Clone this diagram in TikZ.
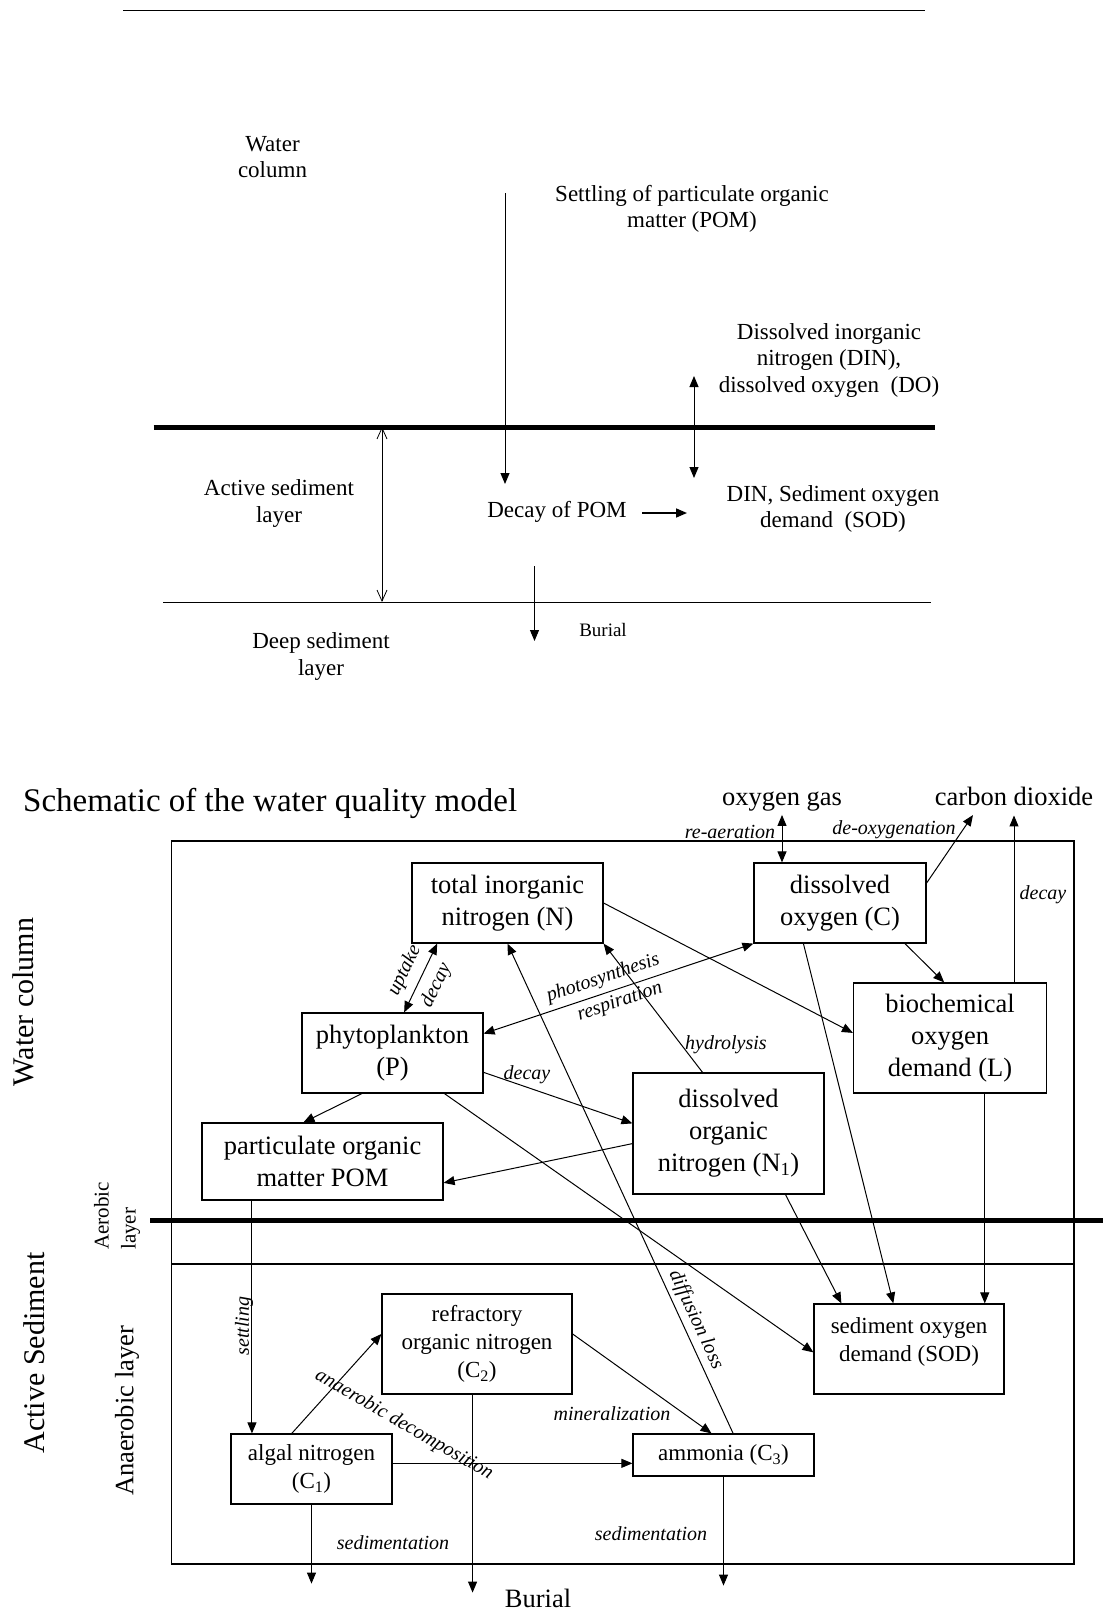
\documentclass[tikz,border=0pt]{standalone}
\usepackage{fontspec}
\setmainfont{Liberation Serif}
\usetikzlibrary{arrows.meta}
\newcommand\fntTop{\fontsize{23}{26.5}\selectfont}
\newcommand\fntBig{\fontsize{26.5}{32}\selectfont}
\newcommand\fntMid{\fontsize{23}{28}\selectfont}
\newcommand\fntLbl{\fontsize{20}{24}\selectfont\itshape}
\newcommand\fntTitle{\fontsize{33}{40}\selectfont}
\newcommand\fntSide{\fontsize{30}{36}\selectfont}
\newcommand\fntAer{\fontsize{21}{27}\selectfont}
\newcommand\fntBurial{\fontsize{19}{23}\selectfont}
\tikzset{
  txt/.style={inner sep=0pt, align=center, font=\fntTop},
  box/.style={draw, line width=1.2pt, inner sep=0pt, align=center, font=\fntBig},
  sbox/.style={box, font=\fntMid},
  lbl/.style={inner sep=0pt, font=\fntLbl},
  side/.style={inner sep=0pt, rotate=90, font=\fntSide},
  arr/.style={line width=1pt, -{Triangle[length=11pt,width=9pt]}},
  dbl/.style={line width=1pt, {Triangle[length=11pt,width=9pt]}-{Triangle[length=11pt,width=9pt]}},
  barb/.style={line width=0.8pt, {Straight Barb[length=11pt,width=10pt]}-{Straight Barb[length=11pt,width=10pt]}},
}
\begin{document}
\begin{tikzpicture}[x=1pt, y=-1pt]
  \useasboundingbox (0,0) rectangle (1103,1611);
  % Upper sketch: water column over the active and the deep sediment
  \draw (123,10) -- (925,10);
  \node[txt] (wcT) at (272.5,157) {Water\\column};
  \node[txt] (settle) at (692,209) {Settling of particulate organic\\matter (POM)};
  \node[txt] (dinDo) at (829,360) {Dissolved inorganic\\nitrogen (DIN),\\dissolved oxygen\ \ (DO)};
  \coordinate (s1) at (505,193);
  \coordinate (s2) at (505,484);
  \draw[arr] (s1) -- (s2);
  \coordinate (d1) at (694,376);
  \coordinate (d2) at (694,478);
  \draw[dbl] (d1) -- (d2);
  \draw[line width=5pt] (153.5,427) -- (935,427);
  \coordinate (t1) at (382,427);
  \coordinate (t2) at (382,602);
  \draw[barb] (t1) -- (t2);
  \node[txt] (actL) at (279,503.5) {Active sediment\\layer};
  \node[txt, anchor=base] (decay) at (557,517) {Decay of POM};
  \coordinate (a1) at (642,513);
  \coordinate (a2) at (687,513);
  \draw[arr, line width=1.6pt] (a1) -- (a2);
  \node[txt] (dinSod) at (833,509) {DIN, Sediment oxygen\\demand\ \ (SOD)};
  \draw (163,602) -- (931,602);
  \coordinate (b1) at (534.5,566);
  \coordinate (b2) at (534.5,641);
  \draw[arr] (b1) -- (b2);
  \node[txt, font=\fntBurial, anchor=base] (burT) at (603,636) {Burial};
  \node[txt] (deepL) at (321,656.5) {Deep sediment\\layer};

  % Lower sketch: the water quality model
  \node[txt, font=\fntTitle, anchor=base west] (title) at (23,811.5) {Schematic of the water quality model};
  \node[txt, font=\fntBig, anchor=base] (og) at (782,805) {oxygen gas};
  \node[txt, font=\fntBig, anchor=base] (co2) at (1014,805) {carbon dioxide};
  \draw[line width=1.4pt] (171.5,841) rectangle (1074,1564);
  \draw[line width=5pt] (150,1220) -- (1103,1220);
  \draw[line width=1.4pt] (171.5,1264) -- (1074,1264);
  \node[side] (wcS) at (23,1002) {Water column};
  \node[side] (actS) at (34,1353) {Active Sediment};
  \node[side, font=\fntAer, align=left, anchor=west] (aer) at (117,1250) {Aerobic\\layer};
  \node[side, font=\fntBig] (ana) at (127,1411) {Anaerobic layer};

  \node[box, minimum width=191pt, minimum height=80pt] (TIN) at (507.5,903) {total inorganic\\nitrogen (N)};
  \node[box, minimum width=172pt, minimum height=80pt] (DO) at (840,903) {dissolved\\oxygen (C)};
  \node[box, minimum width=181pt, minimum height=80pt] (PH) at (392.5,1053) {phytoplankton\\(P)};
  \node[box, minimum width=193pt, minimum height=110pt] (BOD) at (950,1038) {biochemical\\oxygen\\demand (L)};
  \node[box, minimum width=191pt, minimum height=121pt] (N1) at (728.5,1133.5) {dissolved\\organic\\nitrogen (N\textsubscript{1})};
  \node[box, minimum width=241pt, minimum height=77pt] (POM) at (322.5,1161.5) {particulate organic\\matter POM};
  \node[sbox, minimum width=190pt, minimum height=100pt] (C2) at (477,1344) {refractory\\organic nitrogen\\(C\textsubscript{2})};
  \node[sbox, minimum width=190pt, minimum height=90pt] (SOD) at (909,1349) {sediment oxygen\\demand (SOD)\\[-10pt]\mbox{}};
  \node[sbox, minimum width=161pt, minimum height=70pt] (C1) at (311.5,1469) {algal nitrogen\\(C\textsubscript{1})};
  \node[sbox, minimum width=181pt, minimum height=42pt] (C3) at (723.5,1455) {ammonia (C\textsubscript{3})};

  % exchange with the air
  \draw[dbl] ([yshift=-4pt]og.south) -- (og.south |- DO.north);
  \node[lbl, anchor=base] (lReaer) at (730,838) {re-aeration};
  \coordinate (deoxT) at (973,815);
  \draw[arr] (DO.13) -- (deoxT);
  \node[lbl, anchor=base] (lDeox) at (894,834) {de-oxygenation};
  \draw[arr] (co2.south |- BOD.north) -- ([yshift=-10pt]co2.south);
  \node[lbl, anchor=base] (lDecB) at (1043,899) {decay};

  % water column fluxes
  \draw[dbl] (TIN.210) -- node[lbl, midway, sloped, above=8pt] (lUp) {uptake}
    node[lbl, midway, sloped, below=8pt] (lDecT) {decay} (PH.74);
  \draw[arr] (TIN.east) -- (BOD.177);
  \draw[arr] (DO.-32) -- (BOD.96);
  \draw[dbl] (PH.12) -- node[lbl, pos=0.46, sloped, above=5pt] (lPhot) {photosynthesis}
    node[lbl, pos=0.49, sloped, below=4pt] (lResp) {respiration} (DO.south west);
  \draw[arr] (N1.113) -- (TIN.south east);
  \node[lbl, anchor=base west] (lHyd) at (685,1049) {hydrolysis};
  \draw[arr] (PH.-12) -- (N1.174);
  \node[lbl, anchor=base] (lDecN) at (527,1079) {decay};
  \draw[arr] (N1.186) -- (POM.-10);
  \draw[arr] (PH.233) -- (POM.116);

  % to and from the sediment
  \draw[arr] (PH.-38) -- (SOD.182);
  \draw[arr] (C3.66) -- node[lbl, pos=0.22, sloped, above=4pt] (lDif) {diffusion loss} (TIN.south);
  \draw[arr] (N1.-47) -- (SOD.146);
  \draw[arr] (DO.228) -- (SOD.109);
  \draw[arr] (BOD.-58) -- (BOD.-58 |- SOD.north);
  \draw[arr] (POM.209) -- (POM.209 |- C1.north);
  \node[lbl, rotate=90] (lSet) at (244,1326) {settling};
  \draw[arr] (C1.119) -- (C2.174);
  \node[lbl, rotate=-30] (lAna) at (404,1425) {anaerobic decomposition};
  \draw[arr] (C1.4) -- (C1.4 -| C3.west);
  \draw[arr] (C2.6) -- (C3.119);
  \node[lbl, anchor=base] (lMin) at (612,1420) {mineralization};

  % burial
  \coordinate (sk1) at ([yshift=-79pt]C1.south);
  \coordinate (sk2) at ([yshift=-198pt]C2.-95);
  \coordinate (sk3) at ([yshift=-109pt]C3.south);
  \draw[arr] (C1.south) -- (sk1);
  \draw[arr] (C2.-95) -- (sk2);
  \draw[arr] (C3.south) -- (sk3);
  \node[lbl, anchor=base] (lSed1) at (393,1549) {sedimentation};
  \node[lbl, anchor=base] (lSed2) at (651,1540) {sedimentation};
  \node[txt, font=\fntBig, anchor=base] (burB) at (538,1607) {Burial};
\end{tikzpicture}
\end{document}
